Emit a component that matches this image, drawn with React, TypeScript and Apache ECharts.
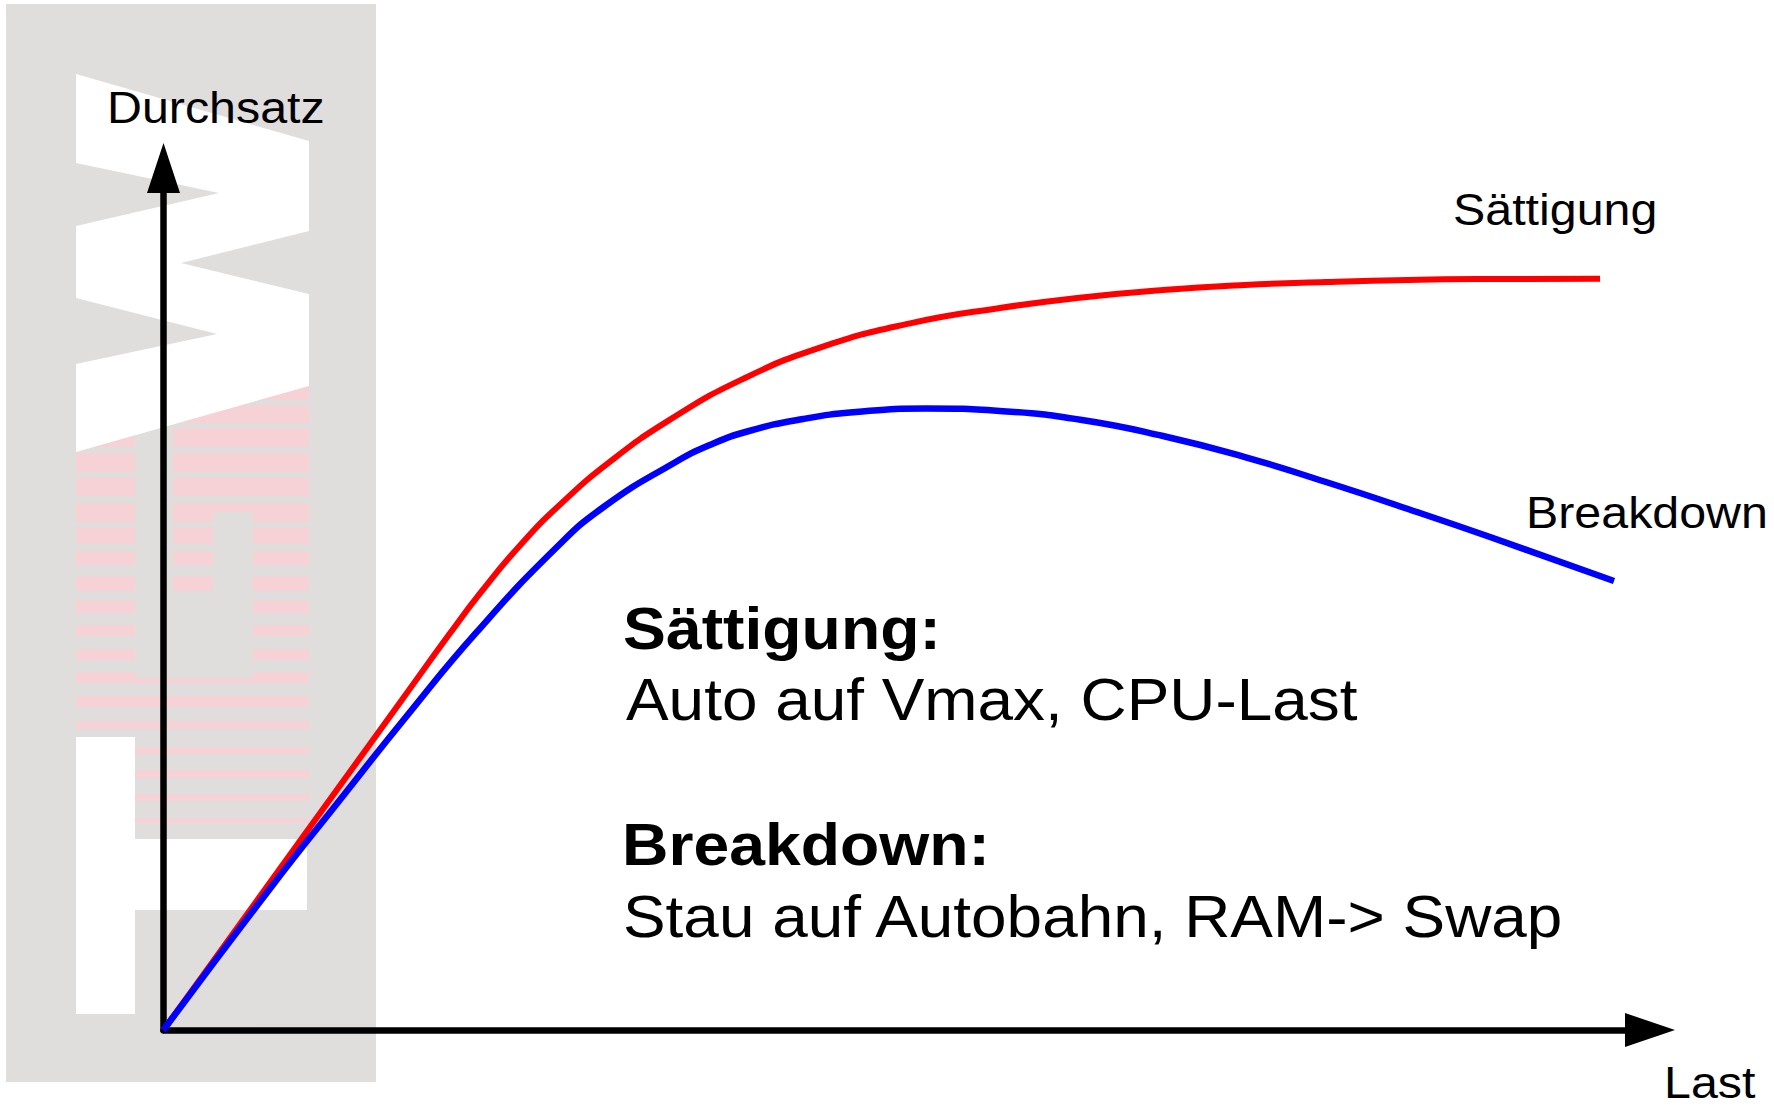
import React, { useEffect, useRef } from 'react';
import * as echarts from 'echarts';

// ---- Data (schematic load / throughput curves, axis units 0..100) ----
const SERIES_NAMES = ['Sättigung', 'Breakdown'];
const LOAD_SAT = [0, 9.59, 15.91, 19.21, 21.29, 23.98, 26.67, 30.04, 34.07, 38.78, 44.16, 50.22, 56.27, 61.79, 67.24, 72.75, 78.2, 83.72, 89.24, 96.64];
const THROUGHPUT_SAT = [0, 22.9, 38.0, 45.87, 50.65, 56.22, 60.95, 65.94, 70.81, 75.36, 79.16, 81.98, 83.76, 84.98, 85.85, 86.43, 86.77, 87.01, 87.12, 87.16];
const LOAD_BRK = [0, 7.3, 11.81, 16.31, 21.02, 26.4, 29.7, 34.34, 36.76, 39.39, 43.02, 46.59, 51.3, 56.27, 61.79, 67.24, 72.75, 78.2, 83.72, 89.24, 97.58];
const THROUGHPUT_BRK = [0, 16.71, 26.57, 36.31, 46.06, 55.92, 60.79, 65.78, 67.87, 69.49, 70.88, 71.69, 72.1, 71.81, 70.77, 68.91, 66.47, 63.57, 60.44, 57.19, 52.09];

const AXIS_NAMES = { x: 'Last', y: 'Durchsatz' };
const NOTE_HEADS = ['Sättigung:', 'Breakdown:'];
const NOTE_TEXTS = ['Auto auf Vmax, CPU-Last', 'Stau auf Autobahn, RAM-> Swap'];

// ---- Decorative background logo geometry ----
const GRAY = '#e0dddd';
const PINK = '#f6d1d5';
const COL_A = [[76, 135], [173, 309]];
const COL_B = [[76, 135], [173, 213], [253, 309]];
const COL_C = [[76, 135], [253, 309]];
const COL_D = [[76, 309]];
const COL_E = [[135, 309]];
const COL_LINK = [[135, 253]];
const STRIPES: [number, number, number[][]][] = [
  [378, 22, COL_A], [405, 18, COL_A], [428, 19, COL_A], [453, 19, COL_A], [477, 19, COL_A],
  [503, 9, COL_A], [512, 10, COL_B], [527, 17, COL_B], [551, 14, COL_B], [576, 15, COL_B],
  [600, 13, COL_C], [625, 11, COL_C], [649, 11, COL_C], [672, 11, COL_C], [678, 5, COL_LINK],
  [696, 11, COL_D], [721, 8, COL_D], [747, 7, COL_E], [770, 8, COL_E], [794, 7, COL_E], [818, 5, COL_E],
];
const ZIGZAG = [
  [76, 74], [309, 141], [309, 231], [181, 263], [309, 294], [309, 386], [76, 452],
  [76, 364], [217, 334], [76, 298], [76, 226], [219, 193], [76, 163],
];

const FONT = '"Liberation Sans", Arial, Helvetica, sans-serif';

function textEl(text: string, x: number, baseline: number, size: number, bold: boolean, sx: number) {
  const y = baseline - 0.3465 * size;
  return {
    type: 'text',
    x,
    y,
    scaleX: sx,
    z: 50,
    style: {
      text,
      fill: '#000',
      fontSize: size,
      fontFamily: FONT,
      fontWeight: bold ? 'bold' : 'normal',
      align: 'left',
      verticalAlign: 'middle',
      textAlign: 'left',
      textVerticalAlign: 'middle',
    },
  };
}

export default function App() {
  const ref = useRef<HTMLDivElement>(null);

  useEffect(() => {
    if (!ref.current) return;
    const chart = echarts.init(ref.current, null, { renderer: 'svg' });

    const logo: any[] = [
      { type: 'rect', shape: { x: 6, y: 4, width: 370, height: 1078 }, style: { fill: GRAY }, z: -10 },
    ];
    STRIPES.forEach(([y, h, cols]) => {
      cols.forEach(([x0, x1]) => {
        logo.push({ type: 'rect', shape: { x: x0, y, width: x1 - x0, height: h }, style: { fill: PINK }, z: -9 });
      });
    });
    logo.push({ type: 'polygon', shape: { points: ZIGZAG }, style: { fill: '#ffffff' }, z: -8 });
    logo.push({ type: 'rect', shape: { x: 76, y: 737, width: 59, height: 277 }, style: { fill: '#ffffff' }, z: -8 });
    logo.push({ type: 'rect', shape: { x: 135, y: 839, width: 172, height: 71 }, style: { fill: '#ffffff' }, z: -8 });

    const texts = [
      textEl(AXIS_NAMES.y, 107, 123, 45, false, 1.075),
      textEl(AXIS_NAMES.x, 1664, 1098, 45, false, 1.075),
      textEl(SERIES_NAMES[0], 1453, 225, 45, false, 1.075),
      textEl(SERIES_NAMES[1], 1526, 528, 45, false, 1.075),
      textEl(NOTE_HEADS[0], 623, 649, 59, true, 1.09),
      textEl(NOTE_TEXTS[0], 626, 720, 59, false, 1.083),
      textEl(NOTE_HEADS[1], 622, 865, 59, true, 1.09),
      textEl(NOTE_TEXTS[1], 623, 937, 59, false, 1.083),
    ];

    const axisCommon = {
      type: 'value',
      min: 0,
      max: 100,
      axisTick: { show: false },
      axisLabel: { show: false },
      splitLine: { show: false },
    };

    chart.setOption({
      animation: false,
      backgroundColor: '#ffffff',
      grid: { left: 163.5, right: 124, top: 168, bottom: 79, containLabel: false },
      xAxis: {
        ...axisCommon,
        axisLine: {
          show: true,
          onZero: false,
          symbol: ['none', 'triangle'],
          symbolSize: [34, 50],
          lineStyle: { color: '#000', width: 6.5 },
        },
      },
      yAxis: {
        ...axisCommon,
        axisLine: {
          show: true,
          onZero: false,
          symbol: ['none', 'triangle'],
          symbolSize: [33, 50],
          lineStyle: { color: '#000', width: 6.5 },
        },
      },
      series: [
        {
          name: SERIES_NAMES[0],
          type: 'line',
          data: LOAD_SAT.map((x, i) => [x, THROUGHPUT_SAT[i]]),
          smooth: 0.5,
          showSymbol: false,
          symbol: 'none',
          lineStyle: { color: '#ff0000', width: 6 },
          z: 3,
        },
        {
          name: SERIES_NAMES[1],
          type: 'line',
          data: LOAD_BRK.map((x, i) => [x, THROUGHPUT_BRK[i]]),
          smooth: 0.5,
          showSymbol: false,
          symbol: 'none',
          lineStyle: { color: '#0000ff', width: 6.5 },
          z: 4,
        },
      ],
      graphic: [...logo, ...texts],
    });

    return () => chart.dispose();
  }, []);

  return (
    <div
      ref={ref}
      style={{ position: 'absolute', left: 0, top: 0, width: 1774, height: 1109, background: '#fff' }}
    />
  );
}
